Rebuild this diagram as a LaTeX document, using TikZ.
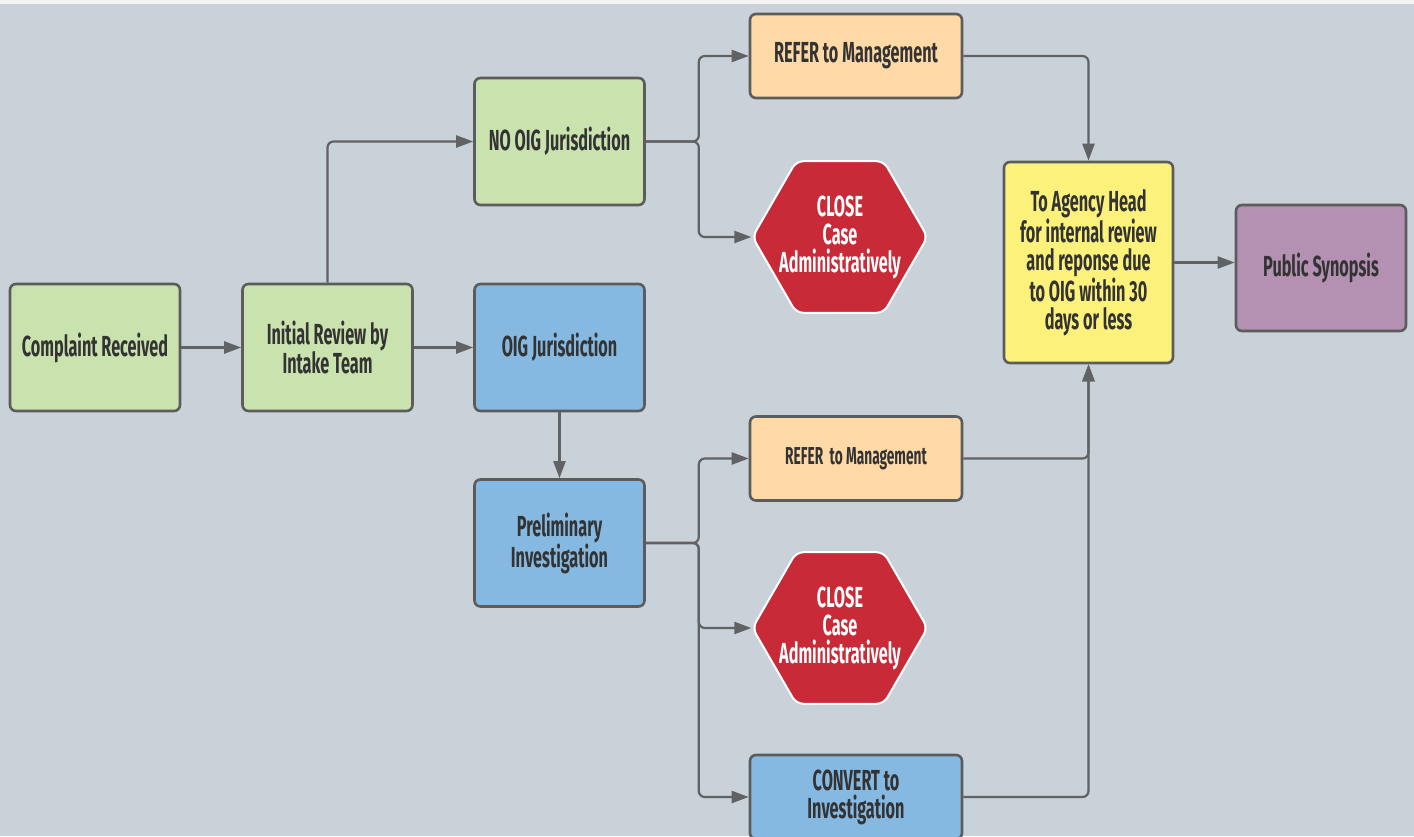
\documentclass[tikz,border=0pt]{standalone}
\usepackage{fontspec}
\usetikzlibrary{arrows.meta,shapes.geometric,calc}
\newfontfamily\cond{Fira Sans}[FakeStretch=0.56]
\definecolor{bg}{HTML}{C9D1D9}
\definecolor{topstrip}{HTML}{F3F3F3}
\definecolor{edge}{HTML}{5C5C5C}
\definecolor{linec}{HTML}{606264}
\definecolor{txt}{HTML}{333333}
\definecolor{cgreen}{HTML}{C9E2AE}
\definecolor{cblue}{HTML}{85B9E2}
\definecolor{corange}{HTML}{FFDAA6}
\definecolor{cred}{HTML}{C92A37}
\definecolor{cyellow}{HTML}{FBF17B}
\definecolor{cpurple}{HTML}{B490B3}
\tikzset{
  box/.style={rectangle, rounded corners=6pt, draw=edge, line width=2.6pt, inner sep=0pt,
    align=center, text=txt, font=\cond\bfseries\fontsize{29}{28}\selectfont},
  sq/.style={box, minimum width=170pt, minimum height=127pt},
  wide/.style={box, minimum width=212pt, minimum height=84pt},
  hexa/.style={regular polygon, regular polygon sides=6, minimum size=175pt, inner sep=0pt,
    fill=cred, draw=white, line width=2pt, rounded corners=7pt},
  hextext/.style={align=center, text=white, font=\cond\bfseries\fontsize{29}{28}\selectfont},
  conn/.style={draw=linec, line width=2.2pt, rounded corners=6pt,
    -{Triangle[length=17pt,width=12pt]}},
}
\begin{document}
\begin{tikzpicture}[x=1pt,y=-1pt]
\clip (0,0) rectangle (1414,836);
\fill[bg] (0,0) rectangle (1414,836);
\fill[topstrip] (0,0) rectangle (1414,4);

\node[sq, fill=cgreen] (cr) at (95,347.5) {Complaint Received};
\node[sq, fill=cgreen] (ir) at (327.5,347.5) {Initial Review by\\Intake Team};
\node[sq, fill=cgreen] (noig) at (559.5,141.5) {NO OIG Jurisdiction};
\node[sq, fill=cblue] (oig) at (559.5,347.5) {OIG Jurisdiction};
\node[sq, fill=cblue] (prelim) at (559.5,543) {Preliminary\\Investigation};
\node[wide, fill=corange] (ref1) at (856,56) {REFER to Management};
\node[wide, fill=corange, font=\cond\bfseries\fontsize{24.5}{26}\selectfont] (ref2) at (856,458.5) {REFER\ \ to Management};
\node[wide, fill=cblue] (conv) at (856,797) {CONVERT to\\Investigation};
\node[hexa, label={[hextext]center:CLOSE\\Case\\Administratively}] (hex1) at (840,237) {};
\node[hexa, label={[hextext]center:CLOSE\\Case\\Administratively}] (hex2) at (840,628) {};
\node[box, fill=cyellow, minimum width=169pt, minimum height=201pt] (agency) at (1088.5,262.5)
  {To Agency Head\\for internal review\\and reponse due\\to OIG within 30\\days or less};
\node[box, fill=cpurple, minimum width=170pt, minimum height=126pt] (pub) at (1321,268) {Public Synopsis};

\draw[conn] (cr.east) -- (ir.west);
\draw[conn] (ir.east) -- (oig.west);
\draw[conn] (ir.north) |- (noig.west);
\draw[conn] (oig.south) -- (prelim.north);
\coordinate (b1) at ($(noig.east)+(53,0)$);
\draw[conn] (noig.east) -- (b1) |- (ref1.west);
\draw[conn] (noig.east) -- (b1) |- (hex1.west);
\coordinate (b2) at ($(prelim.east)+(53,0)$);
\draw[conn] (prelim.east) -- (b2) |- (ref2.west);
\draw[conn] (prelim.east) -- (b2) |- (hex2.west);
\draw[conn] (prelim.east) -- (b2) |- (conv.west);
\draw[conn] (ref1.east) -| (agency.north);
\draw[conn] (ref2.east) -| (agency.south);
\draw[conn] (conv.east) -| (agency.south);
\draw[conn] (agency.east) -- (agency.east -| pub.west);
\end{tikzpicture}
\end{document}
